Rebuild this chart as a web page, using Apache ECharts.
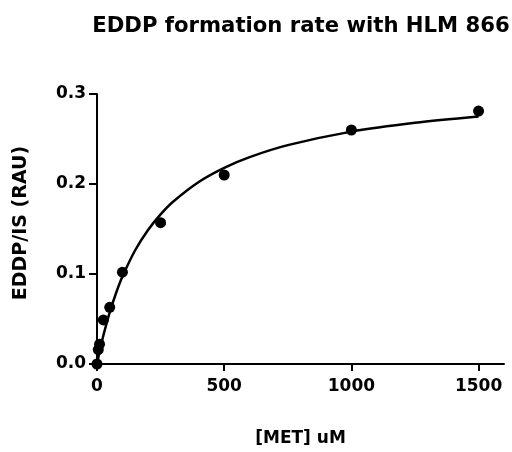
<!DOCTYPE html>
<html>
<head>
<meta charset="utf-8">
<script src="https://cdn.jsdelivr.net/npm/echarts@6/dist/echarts.min.js"></script>
<style>
html,body{margin:0;padding:0;background:#fff;}
#chart{width:512px;height:452px;}
</style>
</head>
<body>
<div id="chart"></div>
<script>
// Measured data points: [MET] uM vs EDDP/IS (RAU)
var concentrations = [0, 5, 10, 25, 50, 100, 250, 500, 1000, 1500];
var ratios = [0.0, 0.016, 0.022, 0.049, 0.063, 0.102, 0.157, 0.210, 0.260, 0.281];
// Fitted curve
var curveX = [0, 5, 10, 25, 50, 75, 100, 150, 200, 250, 300, 400, 500, 600, 750, 1000, 1250, 1500];
var curveY = [0, 0.0069, 0.0134, 0.0316, 0.0574, 0.0789, 0.0972, 0.1264, 0.1487, 0.1663, 0.1806, 0.2023, 0.2180, 0.2299, 0.2432, 0.2582, 0.2680, 0.2750];
var xTicks = [0, 500, 1000, 1500];
var yTicks = [0, 0.1, 0.2, 0.3];
var titleText = 'EDDP formation rate with HLM 866';
var xName = '[MET] uM';
var yName = 'EDDP/IS (RAU)';

var font = 'DejaVu Sans';
var chart = echarts.init(document.getElementById('chart'), null, {renderer: 'canvas'});
var pts = concentrations.map(function (c, i) { return [c, ratios[i]]; });
var curve = curveX.map(function (c, i) { return [c, curveY[i]]; });

chart.setOption({
  animation: false,
  backgroundColor: '#fff',
  title: {
    text: titleText,
    left: 296, top: 11,
    textAlign: 'center',
    textStyle: {fontFamily: font, fontWeight: 'bold', fontSize: 21.2, color: '#000'}
  },
  grid: {left: 97, right: 8, top: 94, bottom: 86, containLabel: false},
  xAxis: {
    type: 'value', min: 0, max: 1600, interval: 500,
    name: xName, nameLocation: 'middle', nameGap: 66,
    nameTextStyle: {fontFamily: font, fontWeight: 'bold', fontSize: 17, color: '#000'},
    axisLine: {onZero: false, lineStyle: {color: '#000', width: 2}},
    axisTick: {show: true, length: 7, lineStyle: {color: '#000', width: 2}, customValues: xTicks},
    axisLabel: {customValues: xTicks, margin: 14, fontFamily: font, fontWeight: 'bold', fontSize: 17, color: '#000',
      formatter: function (v) { return String(v); }},
    splitLine: {show: false}
  },
  yAxis: {
    type: 'value', min: 0, max: 0.3, interval: 0.1,
    name: yName, nameLocation: 'middle', nameGap: 66, nameRotate: 90,
    nameTextStyle: {fontFamily: font, fontWeight: 'bold', fontSize: 19, color: '#000', padding: [0, 0, 0, 12]},
    axisLine: {onZero: false, lineStyle: {color: '#000', width: 2}},
    axisTick: {show: true, length: 8, lineStyle: {color: '#000', width: 2}, customValues: yTicks},
    axisLabel: {customValues: yTicks, margin: 11, fontFamily: font, fontWeight: 'bold', fontSize: 17, color: '#000',
      formatter: function (v) { return v.toFixed(1); }},
    splitLine: {show: false}
  },
  series: [
    {
      type: 'line', data: curve, smooth: 0.3, showSymbol: false, symbol: 'none',
      lineStyle: {color: '#000', width: 2.5}, clip: false, z: 2
    },
    {
      type: 'scatter', data: pts, symbol: 'circle', symbolSize: 11,
      itemStyle: {color: '#000', opacity: 1}, clip: false, z: 3
    }
  ]
});
</script>
</body>
</html>
